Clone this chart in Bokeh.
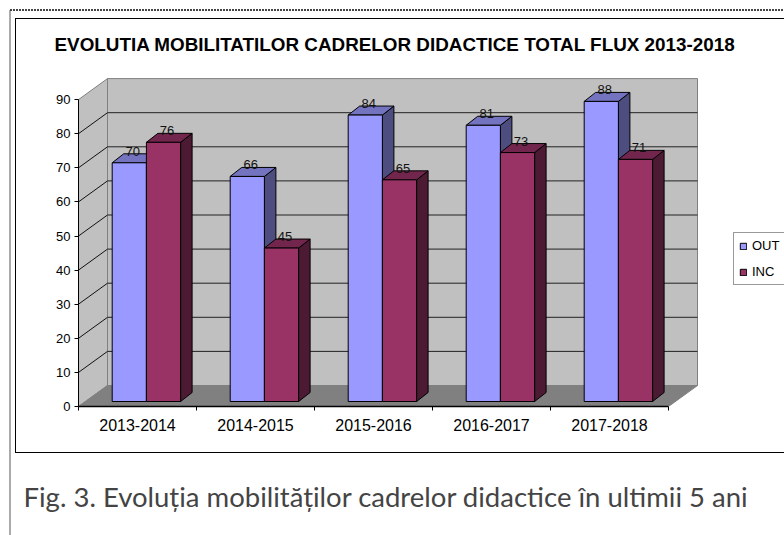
from bokeh.plotting import figure
from bokeh.embed import file_html
from bokeh.resources import INLINE
from bokeh.core.properties import value
from bokeh.models import (ColumnDataSource, FixedTicker, Legend,
                          LegendItem, Range1d, Title)

years = ["2013-2014", "2014-2015", "2015-2016", "2016-2017", "2017-2018"]
out_vals = [70, 66, 84, 81, 88]
inc_vals = [76, 45, 65, 73, 71]
y_ticks = [0, 10, 20, 30, 40, 50, 60, 70, 80, 90]
title_text = "EVOLUTIA MOBILITATILOR CADRELOR DIDACTICE TOTAL FLUX 2013-2018"
caption_text = "Fig. 3. Evoluția mobilităților cadrelor didactice în ultimii 5 ani"

FONT = "Liberation Sans"
PX_X, PX_Y = 118.0, 3.41          # pixels per category / per value unit
DX, DY = 29 / PX_X, 21 / PX_Y     # depth of the walls
BDX, BDY = 11.5 / PX_X, 9 / PX_Y  # depth of the bars
BASE = 5 / PX_Y                   # lift of the bars on the floor
BAR_W = 34.2 / PX_X
BAR_X = 33.7 / PX_X

W, H = 784, 535
LEFT, TOP, BOTTOM = 78, 60, 129
fw, fh = W - LEFT, H - TOP - BOTTOM

p = figure(width=W, height=H, output_backend="svg", toolbar_location=None,
           frame_width=fw, frame_height=fh, min_border_left=LEFT, min_border_right=0,
           min_border_top=TOP, min_border_bottom=BOTTOM,
           x_range=Range1d(0, fw / PX_X), y_range=Range1d(0, fh / PX_Y),
           outline_line_color=None, background_fill_color="white", border_fill_color=None)
p.grid.visible = False

# Page furniture, painted behind the transparent canvas border
layers = [
    ("repeating-linear-gradient(90deg,#444 0 2px,transparent 2px 3px)", "10px 9px", "774px 2px"),
    ("linear-gradient(#aaa,#aaa)", "9px 10px", "2px 525px"),
    ("linear-gradient(#000,#000)", "15px 18px", "769px 1px"),
    ("linear-gradient(#000,#000)", "15px 18px", "1px 435px"),
    ("linear-gradient(#000,#000)", "15px 452px", "769px 1px"),
]
p.styles = {
    "background-image": ",".join(l[0] for l in layers),
    "background-position": ",".join(l[1] for l in layers),
    "background-size": ",".join(l[2] for l in layers),
    "background-repeat": "no-repeat",
}

# Title and caption
p.title = Title(text=title_text, align="left", offset=-24, standoff=12,
                text_font=FONT, text_font_size="18.85px", text_font_style="bold", text_color="black")
p.add_layout(Title(text=caption_text, align="left", offset=-55, standoff=88,
                   text_font="Lato", text_font_size="27.5px", text_font_style="normal",
                   text_color="#444444"), "below")

# Axes
xa, ya = p.xaxis[0], p.yaxis[0]
n = len(years)
xa.ticker = FixedTicker(ticks=[i + 0.5 for i in range(n)], minor_ticks=list(range(n + 1)))
xa.major_label_overrides = {i + 0.5: y for i, y in enumerate(years)}
xa.major_tick_line_color = None
xa.major_tick_out = 0
xa.major_tick_in = 0
xa.minor_tick_out = 4
xa.minor_tick_in = 0
xa.minor_tick_line_color = "black"
xa.bounds = (0, n)
xa.axis_line_color = "black"
xa.axis_line_width = 1.5
xa.major_label_text_font = FONT
xa.major_label_text_font_size = "16px"
xa.major_label_text_color = "black"
xa.major_label_standoff = 8
ya.ticker = FixedTicker(ticks=y_ticks)
ya.minor_tick_line_color = None
ya.major_tick_out = 4
ya.major_tick_in = 0
ya.major_tick_line_color = "black"
ya.bounds = (0, 90)
ya.axis_line_color = "black"
ya.major_label_text_font = FONT
ya.major_label_text_font_size = "13px"
ya.major_label_text_color = "black"
ya.major_label_standoff = 4

# Walls and floor
top_v = y_ticks[-1]
p.patch([DX, n + DX, n + DX, DX], [DY, DY, top_v + DY, top_v + DY],
        fill_color="#c0c0c0", line_color="#808080", line_width=1)
p.patch([0, DX, DX, 0], [0, DY, top_v + DY, top_v],
        fill_color="#c0c0c0", line_color="#808080", line_width=1)
p.patch([0, n, n + DX, DX], [0, 0, DY, DY], fill_color="#808080", line_color="#808080")
grid = [t for t in y_ticks[1:-1]]
p.multi_line([[DX, n + DX] for _ in grid], [[t + DY, t + DY] for t in grid], line_color="#222222", line_width=1)
p.multi_line([[0, DX] for _ in grid], [[t, t + DY] for t in grid], line_color="#111111", line_width=1)


def draw_bars(vals, shift, front, topc, side):
    ls = [i + BAR_X + shift * BAR_W for i in range(n)]
    rs = [l + BAR_W for l in ls]
    ts = [v + BASE for v in vals]
    p.patches([[r, r + BDX, r + BDX, r] for r in rs],
              [[BASE, BASE + BDY, t + BDY, t] for t in ts],
              fill_color=side, line_color="black", line_width=1)
    p.patches([[l, r, r + BDX, l + BDX] for l, r in zip(ls, rs)],
              [[t, t, t + BDY, t + BDY] for t in ts],
              fill_color=topc, line_color="black", line_width=1)
    return p.quad(left=ls, right=rs, bottom=[BASE] * n, top=ts,
                  fill_color=front, line_color="black", line_width=1)


r_out = draw_bars(out_vals, 0, "#9999ff", "#7373bf", "#4d4d80")
r_inc = draw_bars(inc_vals, 1, "#993366", "#73264d", "#4d1a33")

# Data labels
for vals, shift in ((out_vals, 0), (inc_vals, 1)):
    src = ColumnDataSource(dict(
        x=[i + BAR_X + shift * BAR_W + BAR_W / 2 for i in range(n)],
        y=[v + BASE for v in vals],
        t=[str(v) for v in vals]))
    p.text("x", "y", text="t", source=src, x_offset=3.5, y_offset=-11.5,
           text_align="center", text_baseline="middle", text_color="#111111",
           text_font=value(FONT), text_font_size="13px")

# Legend
leg = Legend(items=[LegendItem(label="OUT", renderers=[r_out]), LegendItem(label="INC", renderers=[r_inc])],
             location=(655, 121), orientation="vertical", glyph_width=8, glyph_height=8,
             label_standoff=5, spacing=11, padding=5, margin=0, label_text_font=FONT,
             label_text_font_size="13px", label_text_color="black", label_height=15,
             border_line_color="#333333", background_fill_color="white", background_fill_alpha=1)
p.add_layout(leg, "center")

open("out.html", "w").write(file_html(p, INLINE))
